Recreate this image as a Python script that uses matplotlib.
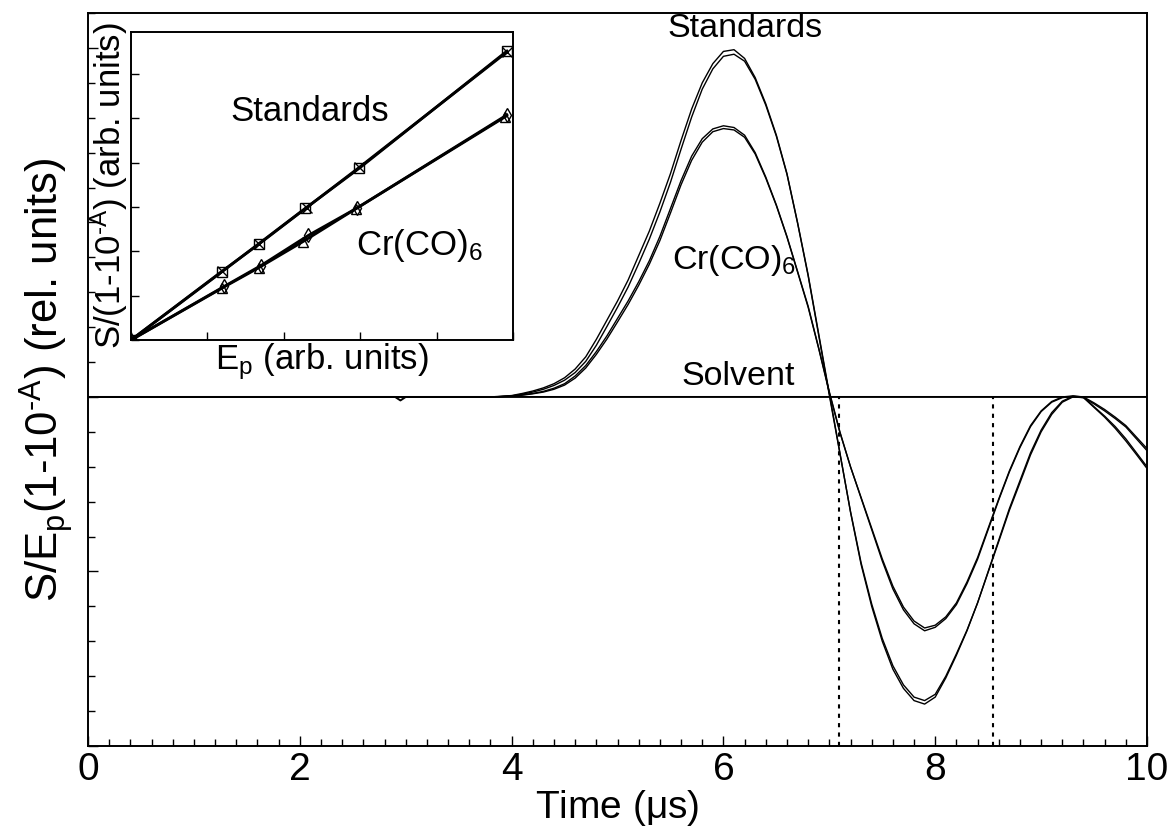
import numpy as np
import matplotlib.pyplot as plt
from matplotlib.ticker import MultipleLocator

plt.rcParams['font.family'] = ['Liberation Sans', 'DejaVu Sans']
plt.rcParams['mathtext.fontset'] = 'custom'
plt.rcParams['mathtext.rm'] = 'Liberation Sans'
plt.rcParams['mathtext.it'] = 'Liberation Sans'

# --- photoacoustic signals, normalised by laser energy and absorbed fraction ---
# flat part before the acoustic wave arrives
t_early = [0.0, 1.0, 2.0, 3.0, 3.5]
t_wave = list(np.round(np.arange(3.8, 10.001, 0.1), 1))
time = t_early + t_wave

std1 = [0, 0, 0, 0, 0,
        0.0, 0.02, 0.04, 0.1, 0.17, 0.26, 0.38, 0.55, 0.8, 1.15,
        1.65, 2.2, 2.75, 3.35, 4.05, 4.75, 5.55, 6.4, 7.35, 8.25,
        9.0, 9.55, 9.9, 9.95, 9.7, 9.15, 8.4, 7.5, 6.4, 5.0,
        3.5, 1.8, 0.1, -1.6, -3.3, -4.8, -6.0, -7.0, -7.8, -8.35,
        -8.7, -8.8, -8.6, -8.05, -7.4, -6.7, -5.9, -5.0, -4.1, -3.2,
        -2.4, -1.6, -0.95, -0.45, -0.12, 0.02, 0.0, -0.28, -0.55, -0.85,
        -1.2, -1.6, -2.0]
std2 = [0, 0, 0, 0, 0,
        0.0, 0.01, 0.03, 0.08, 0.14, 0.22, 0.33, 0.48, 0.7, 1.02,
        1.48, 2.02, 2.57, 3.15, 3.82, 4.52, 5.3, 6.15, 7.1, 8.02,
        8.82, 9.4, 9.76, 9.82, 9.62, 9.1, 8.36, 7.47, 6.38, 4.98,
        3.47, 1.76, 0.05, -1.62, -3.28, -4.75, -5.93, -6.92, -7.7, -8.25,
        -8.6, -8.7, -8.52, -8.0, -7.36, -6.68, -5.9, -5.02, -4.14, -3.25,
        -2.46, -1.66, -1.0, -0.5, -0.15, 0.0, -0.02, -0.3, -0.58, -0.9,
        -1.26, -1.65, -2.05]
cr1 = [0, 0, 0, 0, 0,
       0.0, 0.01, 0.03, 0.06, 0.1, 0.16, 0.25, 0.38, 0.6, 0.9,
       1.3, 1.75, 2.25, 2.75, 3.3, 3.9, 4.6, 5.4, 6.2, 6.9,
       7.4, 7.68, 7.77, 7.72, 7.5, 7.0, 6.3, 5.5, 4.6, 3.6,
       2.6, 1.4, 0.15, -1.0, -2.0, -2.9, -3.8, -4.7, -5.5, -6.1,
       -6.5, -6.7, -6.6, -6.35, -5.95, -5.35, -4.65, -3.8, -2.95, -2.15,
       -1.45, -0.85, -0.42, -0.15, -0.02, 0.02, -0.02, -0.2, -0.4, -0.62,
       -0.86, -1.2, -1.54]
cr2 = [0, 0, 0, 0, 0,
       0.0, 0.01, 0.02, 0.05, 0.09, 0.14, 0.22, 0.34, 0.54, 0.83,
       1.22, 1.66, 2.15, 2.65, 3.2, 3.8, 4.48, 5.27, 6.08, 6.78,
       7.3, 7.6, 7.69, 7.65, 7.44, 6.96, 6.27, 5.48, 4.58, 3.58,
       2.57, 1.38, 0.12, -1.02, -2.0, -2.88, -3.76, -4.64, -5.42, -6.02,
       -6.42, -6.62, -6.54, -6.3, -5.9, -5.3, -4.6, -3.76, -2.92, -2.12,
       -1.42, -0.82, -0.4, -0.13, 0.0, 0.03, 0.0, -0.17, -0.36, -0.58,
       -0.82, -1.15, -1.48]

solvent_t = [0, 0.5, 1, 1.5, 2, 2.5, 2.9, 2.95, 3.0, 3.5, 4, 5, 6, 7, 8, 9, 10]
solvent_y = [0, 0, 0, 0, 0, 0, 0, -0.1, 0, 0, 0, 0, 0, 0, 0, 0, 0]

# time window used for the amplitude evaluation
t_window = [7.09, 8.55]

# --- inset: signal amplitude vs. laser energy ---
ep_std_a = [0, 1.19, 1.67, 2.28, 2.99, 4.92]
s_std_a = [0, 1.54, 2.17, 2.97, 3.88, 6.52]
ep_std_b = [0, 1.19, 1.67, 2.30, 2.99, 4.92]
s_std_b = [0, 1.55, 2.16, 2.99, 3.90, 6.50]
ep_cr_a = [0, 1.19, 1.67, 2.25, 2.94, 4.90]
s_cr_a = [0, 1.17, 1.63, 2.22, 2.96, 5.04]
ep_cr_b = [0, 1.22, 1.70, 2.32, 2.96, 4.92]
s_cr_b = [0, 1.21, 1.68, 2.36, 2.98, 5.08]

FS = 24.5      # annotations
FS_TICK = 28
FS_INS = 25

fig = plt.figure(figsize=(11.69, 8.36), dpi=100)
ax = fig.add_axes([0.0753, 0.1077, 0.9059, 0.8767])

for y in (std1, std2, cr1, cr2):
    ax.plot(time, y, color='black', lw=1.0)
ax.plot(solvent_t, solvent_y, color='black', lw=1.4)
for tw in t_window:
    ax.plot([tw, tw], [-10, 0], color='black', lw=1.5, ls=(0, (2, 2.5)))

ax.set_xlim(0, 10)
ax.set_ylim(-10, 11)
ax.xaxis.set_major_locator(MultipleLocator(2))
ax.xaxis.set_minor_locator(MultipleLocator(0.2))
ax.yaxis.set_major_locator(MultipleLocator(5))
ax.yaxis.set_minor_locator(MultipleLocator(1))
ax.tick_params(which='both', direction='in', top=False, right=False,
               labelsize=FS_TICK, width=1.0)
ax.tick_params(which='major', length=7)
ax.tick_params(which='minor', length=5)
ax.set_yticklabels([])
ax.tick_params(axis='x', pad=4)
for sp in ax.spines.values():
    sp.set_linewidth(1.4)

ax.set_xlabel(r'Time ($\mathregular{\mu}$s)', fontsize=FS_TICK, labelpad=0)
ax.set_ylabel(r'S/E$\mathregular{_p}$(1-10$^{\text{-A}}$) (rel. units)',
              fontsize=31.5, labelpad=6)

ax.text(6.2, 10.55, 'Standards', fontsize=FS, ha='center', va='center')
ax.text(6.1, 3.9, r'Cr(CO)$\mathregular{_6}$', fontsize=FS, ha='center', va='center')
ax.text(6.14, 0.6, 'Solvent', fontsize=FS, ha='center', va='center')

# inset
ins = fig.add_axes([0.1121, 0.5933, 0.3268, 0.3684])
ins.plot(ep_std_a, s_std_a, color='black', lw=2.0, marker='s', ms=7,
         mfc='none', mew=1.0)
ins.plot(ep_std_b, s_std_b, color='black', lw=2.0, marker='x', ms=7, mew=1.0)
ins.plot(ep_cr_a, s_cr_a, color='black', lw=2.0, marker='^', ms=7,
         mfc='none', mew=1.0)
ins.plot(ep_cr_b, s_cr_b, color='black', lw=2.0, marker='d', ms=7,
         mfc='none', mew=1.0)
ins.set_xlim(0, 5)
ins.set_ylim(0, 6.95)
ins.xaxis.set_major_locator(MultipleLocator(1))
ins.yaxis.set_major_locator(MultipleLocator(1))
ins.tick_params(direction='in', length=6, width=1.0, top=False, right=False,
                labelbottom=False, labelleft=False)
for sp in ins.spines.values():
    sp.set_linewidth(1.4)
ins.set_xlabel(r'E$\mathregular{_p}$ (arb. units)', fontsize=FS_INS, labelpad=1)
ins.set_ylabel(r'S/(1-10$^{\text{-A}}$) (arb. units)', fontsize=FS_INS, labelpad=1)
ins.text(2.34, 5.15, 'Standards', fontsize=FS_INS, ha='center', va='center')
ins.text(3.78, 2.14, r'Cr(CO)$\mathregular{_6}$', fontsize=FS_INS, ha='center', va='center')

fig.savefig('out.png', dpi=100)
